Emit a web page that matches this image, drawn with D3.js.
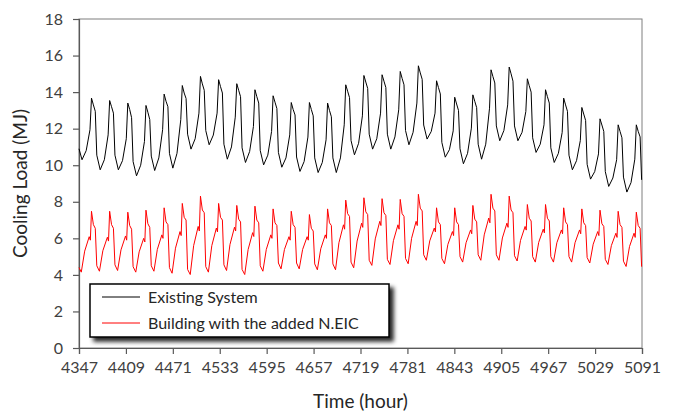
<!DOCTYPE html>
<html>
<head>
<meta charset="utf-8">
<script src="https://cdn.jsdelivr.net/npm/d3@7"></script>
<style>
  body { margin: 0; background: #fff; }
  text { font-family: Lato, "Open Sans", sans-serif; }
</style>
</head>
<body>
<div id="chart"></div>
<script>
// Hours on the x axis
var startHour = 4347
var endHour = 5091
var xTicks = [4347, 4409, 4471, 4533, 4595, 4657, 4719, 4781, 4843, 4905, 4967, 5029, 5091]
var yTicks = [0, 2, 4, 6, 8, 10, 12, 14, 16, 18]

// Existing system: values read per day (31 days) at fixed hours of the day
var blackOffsets = [4, 9.5, 14.5, 16.5, 19, 21.5, 23.5]
var blackStart = 10.9
var blackTrough = [10.3, 9.75, 9.75, 9.42, 9.71, 9.84, 10.88, 11.12, 10.33, 10.15, 10.02, 9.89, 9.66, 9.6, 9.6, 10.57,
                   10.88, 10.88, 11.12, 11.43, 10.44, 10.08, 10.33, 11.34, 11.34, 10.7, 10.15, 9.75, 9.24, 8.84, 8.53]
var blackRise = [10.8, 10.3, 10.25, 10.0, 10.4, 10.65, 11.45, 11.65, 11.0, 10.75, 10.55, 10.4, 10.2, 10.15, 10.4, 11.2,
                 11.45, 11.55, 11.8, 11.85, 10.85, 10.65, 11.15, 11.9, 11.8, 11.15, 10.65, 10.25, 9.65, 9.3, 9.05]
var blackPre = [11.94, 11.66, 11.45, 11.3, 11.94, 12.49, 12.85, 12.85, 12.63, 12.12, 11.85, 11.66, 11.54, 11.39, 12.21, 12.7,
                12.85, 13.03, 13.4, 12.85, 11.88, 12.03, 13.12, 13.3, 12.94, 12.21, 11.79, 11.35, 10.62, 10.3, 10.33]
var blackPeak = [13.67, 13.54, 13.4, 13.27, 13.89, 14.36, 14.86, 14.68, 14.46, 14.13, 13.8, 13.43, 13.43, 13.4, 14.4, 14.91,
                 14.95, 15.13, 15.44, 14.62, 13.72, 13.85, 15.22, 15.37, 14.73, 14.13, 13.67, 13.16, 12.54, 12.21, 12.21]
var blackPost = [13.3, 13.2, 13.05, 12.9, 13.5, 13.95, 14.45, 14.3, 14.1, 13.75, 13.45, 13.05, 13.05, 13.0, 14.05, 14.55,
                 14.6, 14.75, 15.05, 14.25, 13.35, 13.5, 14.85, 15.0, 14.35, 13.75, 13.3, 12.8, 12.2, 11.85, 11.85]
var blackShoulder = [12.95, 12.85, 12.6, 12.5, 13.2, 13.65, 14.1, 13.95, 13.75, 13.4, 13.1, 12.75, 12.7, 12.65, 13.7, 14.2,
                     14.25, 14.4, 14.7, 13.9, 13.0, 13.15, 14.5, 14.6, 14.0, 13.4, 12.95, 12.45, 11.85, 11.5, 11.55]
var blackDrop = [10.55, 10.55, 10.2, 10.5, 10.65, 11.7, 11.9, 11.15, 10.95, 10.8, 10.7, 10.45, 10.4, 10.4, 11.35, 11.7,
                 11.7, 11.9, 12.2, 11.25, 10.9, 11.15, 12.15, 12.15, 11.5, 10.95, 10.55, 10.05, 9.65, 9.35, 9.2]

// Building with the added N.EIC
var redOffsets = [3, 7.5, 13.5, 15, 16.5, 19, 21.5, 23.5]
var redStart = 4.4
var redTrough = [4.15, 4.2, 4.24, 4.15, 4.2, 4.09, 4.02, 4.15, 4.24, 4.02, 4.2, 4.33, 4.33, 4.28, 4.28, 4.39,
                 4.52, 4.57, 4.61, 4.8, 4.61, 4.7, 4.8, 4.8, 4.76, 4.7, 4.7, 4.7, 4.65, 4.57, 4.46]
var redRise = [5.3, 5.32, 5.37, 5.26, 5.39, 5.46, 5.6, 5.6, 5.66, 5.39, 5.39, 5.39, 5.39, 5.43, 5.76, 5.85,
               5.97, 5.87, 6.0, 5.86, 5.67, 5.76, 6.19, 6.02, 5.89, 5.78, 5.76, 5.76, 5.68, 5.6, 5.55]
var redPre = [6.09, 6.06, 6.13, 6.0, 6.19, 6.37, 6.65, 6.56, 6.61, 6.31, 6.19, 6.09, 6.09, 6.19, 6.74, 6.83,
              6.93, 6.74, 6.93, 6.56, 6.37, 6.46, 7.11, 6.83, 6.65, 6.5, 6.46, 6.46, 6.37, 6.28, 6.28]
var redDip = [5.9, 5.85, 5.9, 5.8, 6.0, 6.15, 6.4, 6.35, 6.4, 6.1, 6.0, 5.9, 5.9, 6.0, 6.5, 6.6,
              6.7, 6.5, 6.7, 6.35, 6.15, 6.25, 6.85, 6.6, 6.45, 6.3, 6.25, 6.25, 6.15, 6.05, 6.05]
var redPeak = [7.48, 7.48, 7.43, 7.54, 7.67, 7.91, 8.31, 7.91, 7.8, 7.76, 7.61, 7.48, 7.3, 7.61, 8.09, 8.22,
               8.17, 8.13, 8.41, 7.67, 7.67, 7.8, 8.41, 8.31, 7.85, 7.85, 7.67, 7.61, 7.54, 7.48, 7.43]
var redPost = [6.75, 6.75, 6.7, 6.8, 6.9, 7.15, 7.55, 7.15, 7.05, 7.0, 6.85, 6.75, 6.55, 6.85, 7.35, 7.45,
               7.4, 7.35, 7.65, 6.9, 6.9, 7.05, 7.65, 7.55, 7.1, 7.1, 6.9, 6.85, 6.8, 6.75, 6.7]
var redShoulder = [6.55, 6.55, 6.5, 6.6, 6.75, 7.0, 7.4, 7.0, 6.9, 6.85, 6.7, 6.6, 6.4, 6.7, 7.2, 7.3,
                   7.25, 7.2, 7.5, 6.75, 6.75, 6.9, 7.5, 7.4, 6.95, 6.95, 6.75, 6.7, 6.65, 6.6, 6.55]
var redDrop = [4.5, 4.55, 4.45, 4.5, 4.4, 4.3, 4.45, 4.55, 4.3, 4.5, 4.65, 4.65, 4.6, 4.6, 4.7, 4.8,
               4.85, 4.9, 5.1, 4.9, 5.0, 5.1, 5.1, 5.05, 5.0, 5.0, 5.0, 4.95, 4.85, 4.75, 4.45]

var seriesNames = ["Existing System", "Building with the added N.EIC"]
var seriesColors = ["#000000", "#ff0000"]

// Turn the per-day readings into one list of points
function buildPoints(start, offsets, cols) {
    var pts = [{ h: startHour, v: start }]
    for (var d = 0; d < cols[0].length; d++) {
        offsets.forEach(function (o, i) {
            pts.push({ h: startHour + d * 24 + o, v: cols[i][d] })
        })
    }
    return pts
}

var blackData = buildPoints(blackStart, blackOffsets,
    [blackTrough, blackRise, blackPre, blackPeak, blackPost, blackShoulder, blackDrop])
var redData = buildPoints(redStart, redOffsets,
    [redTrough, redRise, redPre, redDip, redPeak, redPost, redShoulder, redDrop])

var W = 675, H = 412
var margin = { top: 19, right: 33, bottom: 64, left: 79 },
    width = W - margin.left - margin.right,
    height = H - margin.top - margin.bottom

var svg = d3.select("#chart").append("svg")
    .attr("width", W)
    .attr("height", H)

var defs = svg.append("defs")
var shadow = defs.append("filter").attr("id", "shadow")
    .attr("x", "-10%").attr("y", "-30%").attr("width", "130%").attr("height", "180%")
shadow.append("feDropShadow")
    .attr("dx", 4).attr("dy", 4).attr("stdDeviation", 2)
    .attr("flood-color", "#000").attr("flood-opacity", 0.85)

var g = svg.append("g").attr("transform", "translate(" + margin.left + "," + margin.top + ")")

var x = d3.scaleLinear().domain([startHour, endHour]).range([0, width])
var y = d3.scaleLinear().domain([0, 18]).range([height, 0])

// Plot frame
g.append("rect")
    .attr("width", width).attr("height", height)
    .attr("fill", "none").attr("stroke", "#7f7f7f").attr("stroke-width", 1)

var axisColor = "#595959"
var textColor = "#404040"

var xAxis = g.append("g")
    .attr("transform", "translate(0," + height + ")")
    .call(d3.axisBottom(x).tickValues(xTicks).tickSize(6).tickPadding(8).tickFormat(d3.format("d")))
var yAxis = g.append("g")
    .call(d3.axisLeft(y).tickValues(yTicks).tickSize(6).tickPadding(10))

;[xAxis, yAxis].forEach(function (a) {
    a.select(".domain").attr("stroke", axisColor).attr("stroke-width", 1.2)
    a.selectAll(".tick line").attr("stroke", axisColor).attr("stroke-width", 1.2)
    a.selectAll(".tick text").attr("fill", textColor)
        .style("font-size", "16px").style("font-family", "Lato, sans-serif")
})

// Series lines
var line = d3.line().x(function (d) { return x(d.h) }).y(function (d) { return y(d.v) })

g.append("path").datum(blackData)
    .attr("d", line).attr("fill", "none")
    .attr("stroke", seriesColors[0]).attr("stroke-width", 1)
g.append("path").datum(redData)
    .attr("d", line).attr("fill", "none")
    .attr("stroke", seriesColors[1]).attr("stroke-width", 1)

// Axis titles
svg.append("text")
    .attr("transform", "translate(27," + (margin.top + height / 2) + ") rotate(-90)")
    .attr("text-anchor", "middle")
    .attr("fill", "#262626")
    .style("font-size", "19px")
    .text("Cooling Load (MJ)")

svg.append("text")
    .attr("x", margin.left + width / 2)
    .attr("y", 408)
    .attr("text-anchor", "middle")
    .attr("fill", "#262626")
    .style("font-size", "19px")
    .text("Time (hour)")

// Legend
var legend = svg.append("g").attr("transform", "translate(90,284)")
legend.append("rect")
    .attr("width", 299).attr("height", 53)
    .attr("fill", "#fff").attr("stroke", "#000").attr("stroke-width", 1.5)
    .attr("filter", "url(#shadow)")

seriesNames.forEach(function (name, i) {
    var row = legend.append("g").attr("transform", "translate(0," + (13 + i * 26) + ")")
    row.append("line")
        .attr("x1", 12).attr("x2", 50)
        .attr("stroke", seriesColors[i]).attr("stroke-width", 1)
    row.append("text")
        .attr("x", 58).attr("y", 5.5)
        .attr("fill", "#262626")
        .style("font-size", "16px")
        .text(name)
})
</script>
</body>
</html>
